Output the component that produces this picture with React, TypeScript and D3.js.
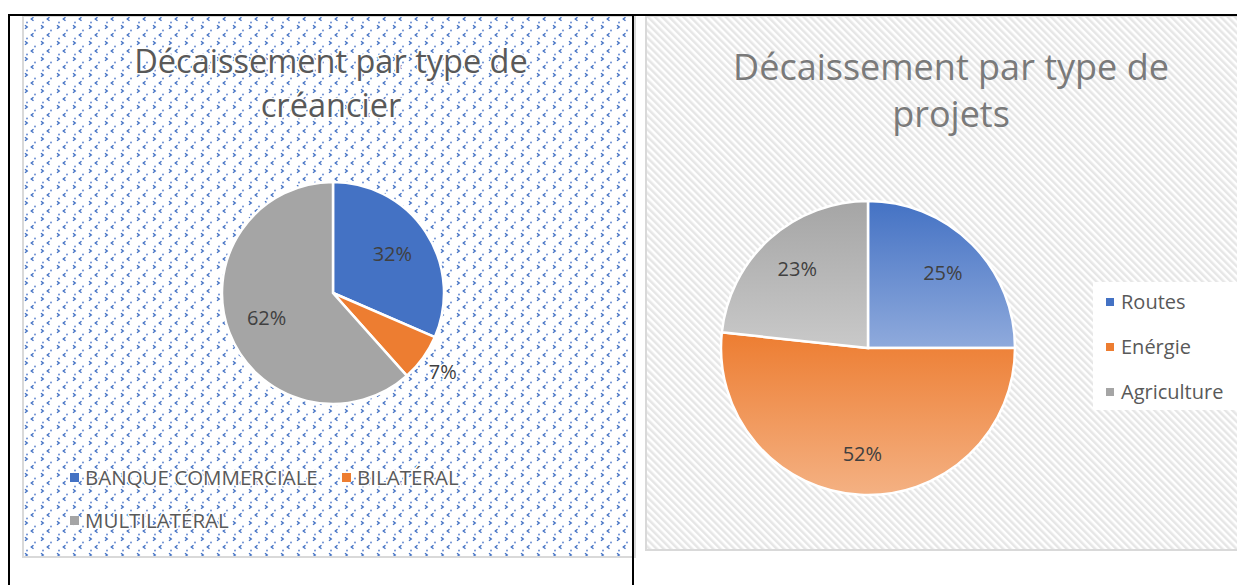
import React from "react";
import * as d3 from "d3";

const creditorCategories = ["BANQUE COMMERCIALE", "BILATÉRAL", "MULTILATÉRAL"];
const creditorValues = [31.5, 6.9, 61.6];
const creditorLabels = ["32%", "7%", "62%"];
const creditorColors = ["#4472C4", "#ED7D31", "#A5A5A5"];

const projectCategories = ["Routes", "Enérgie", "Agriculture"];
const projectValues = [25, 51.7, 23.3];
const projectLabels = ["25%", "52%", "23%"];
const projectTop = ["#4472C4", "#ED7D31", "#A5A5A5"];
const projectBottom = ["#8FAADC", "#F4B183", "#C9C9C9"];

const FONT = "'Open Sans', 'Noto Sans', sans-serif";

export default function App() {
  const pie = d3.pie<number>().sort(null).value((d) => d);

  // left pie
  const lc = { x: 333, y: 293 };
  const lr = 111;
  const lArcs = pie(creditorValues);
  const lArc = d3.arc<d3.PieArcDatum<number>>().innerRadius(0).outerRadius(lr);
  const lLabelArc = d3.arc<d3.PieArcDatum<number>>().innerRadius(lr * 0.64).outerRadius(lr * 0.64);
  const lOuterLabelArc = d3.arc<d3.PieArcDatum<number>>().innerRadius(lr * 1.22).outerRadius(lr * 1.22);

  // right pie
  const rc = { x: 868, y: 348 };
  const rr = 147;
  const rArcs = pie(projectValues);
  const rArc = d3.arc<d3.PieArcDatum<number>>().innerRadius(0).outerRadius(rr);
  const rLabelArc = d3.arc<d3.PieArcDatum<number>>().innerRadius(rr * 0.72).outerRadius(rr * 0.72);

  const legendLeft = [
    { x: 70, y: 478 },
    { x: 342, y: 478 },
    { x: 70, y: 521 },
  ];

  return (
    <svg width={1237} height={585} style={{ position: "absolute", left: 0, top: 0 }} fontFamily={FONT}>
      <defs>
        <pattern id="dotpat" width={16} height={16} patternUnits="userSpaceOnUse" x={24} y={16}>
          <rect width={16} height={16} fill="#ffffff" />
          <path d="M9.5 1.3 L7.3 3 L9.5 4.7" stroke="#4472C4" strokeWidth={1.4} fill="none" />
          <path d="M1 9.3 L3.2 11 L1 12.7" stroke="#4472C4" strokeWidth={1.4} fill="none" />
          <circle cx={3} cy={6.5} r={0.9} fill="#5F86CF" />
          <circle cx={11} cy={14.5} r={0.9} fill="#5F86CF" />
        </pattern>
        <pattern id="stripes" width={5} height={5} patternUnits="userSpaceOnUse" patternTransform="rotate(-45)">
          <rect width={5} height={5} fill="#ffffff" />
          <rect width={2.5} height={5} fill="#e6e6e6" />
        </pattern>
        {projectTop.map((c, i) => (
          <linearGradient key={i} id={`grad${i}`} x1="0" y1="0" x2="0" y2="1">
            <stop offset="0%" stopColor={c} />
            <stop offset="100%" stopColor={projectBottom[i]} />
          </linearGradient>
        ))}
      </defs>

      <rect width={1237} height={585} fill="#ffffff" />

      {/* Left chart panel */}
      <rect x={23} y={16} width={612} height={541} fill="url(#dotpat)" stroke="#d9d9d9" strokeWidth={2} />

      {/* Right chart panel */}
      <rect x={646} y={16} width={620} height={534} fill="url(#stripes)" stroke="#d9d9d9" strokeWidth={2} />

      {/* Left title */}
      <g fontSize={32.5} fill="#595959" textAnchor="middle" stroke="#ffffff" strokeWidth={3} style={{ paintOrder: "stroke" }} strokeLinejoin="round">
        <text x={331} y={73}>Décaissement par type de</text>
        <text x={331} y={117}>créancier</text>
      </g>

      {/* Left pie */}
      <g transform={`translate(${lc.x},${lc.y})`}>
        {lArcs.map((a, i) => (
          <path key={i} d={lArc(a) || ""} fill={creditorColors[i]} stroke="#ffffff" strokeWidth={2.5} />
        ))}
        {lArcs.map((a, i) => {
          const p = i === 1 ? lOuterLabelArc.centroid(a) : lLabelArc.centroid(a);
          return (
            <text key={i} x={p[0]} y={p[1]} dy="0.35em" textAnchor="middle" fontSize={20} fill="#404040"
              stroke="#ffffff" strokeWidth={i === 1 ? 3 : 0} style={{ paintOrder: "stroke" }}>
              {creditorLabels[i]}
            </text>
          );
        })}
      </g>

      {/* Left legend */}
      <g fontSize={20.5} fill="#595959">
        {creditorCategories.map((c, i) => (
          <g key={i} transform={`translate(${legendLeft[i].x},${legendLeft[i].y})`}>
            <rect x={0} y={-5} width={9} height={9} fill={creditorColors[i]} />
            <text x={15} y={0} dy="0.35em" stroke="#ffffff" strokeWidth={3} style={{ paintOrder: "stroke" }} strokeLinejoin="round">
              {c}
            </text>
          </g>
        ))}
      </g>

      {/* Right title */}
      <g fontSize={36} fill="#7a7a7a" textAnchor="middle">
        <text x={951} y={80}>Décaissement par type de</text>
        <text x={951} y={127}>projets</text>
      </g>

      {/* Right pie */}
      <g transform={`translate(${rc.x},${rc.y})`}>
        {rArcs.map((a, i) => (
          <path key={i} d={rArc(a) || ""} fill={`url(#grad${i})`} stroke="#ffffff" strokeWidth={2.5} />
        ))}
        {rArcs.map((a, i) => {
          const p = rLabelArc.centroid(a);
          return (
            <text key={i} x={p[0]} y={p[1]} dy="0.35em" textAnchor="middle" fontSize={20} fill="#404040">
              {projectLabels[i]}
            </text>
          );
        })}
      </g>

      {/* Right legend */}
      <rect x={1093} y={282} width={150} height={128} fill="#ffffff" />
      <g fontSize={20} fill="#595959">
        {projectCategories.map((c, i) => (
          <g key={i} transform={`translate(1106,${302 + i * 45})`}>
            <rect x={0} y={-4} width={8} height={8} fill={projectTop[i]} />
            <text x={15} y={0} dy="0.35em">{c}</text>
          </g>
        ))}
      </g>

      {/* Table borders */}
      <line x1={8} y1={15} x2={1237} y2={15} stroke="#000" strokeWidth={2} />
      <line x1={9} y1={15} x2={9} y2={585} stroke="#000" strokeWidth={2} />
      <line x1={633} y1={15} x2={633} y2={585} stroke="#000" strokeWidth={2} />
    </svg>
  );
}
